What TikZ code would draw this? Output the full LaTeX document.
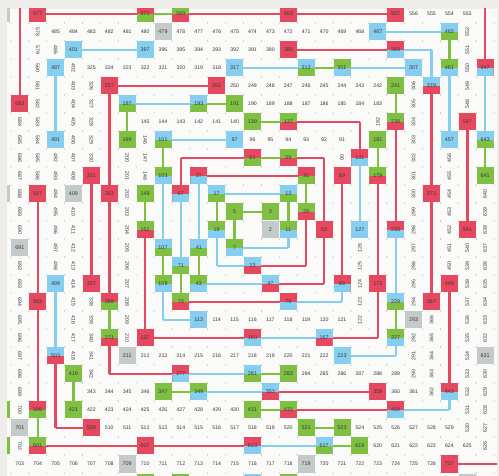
\documentclass[tikz,border=0pt]{standalone}
\usepackage{fontspec}
\setmainfont{Liberation Sans}
\definecolor{cred}{HTML}{E6485F}
\definecolor{cgreen}{HTML}{7FC043}
\definecolor{cblue}{HTML}{86CEF0}
\definecolor{cgray}{HTML}{C4C9CA}
\definecolor{sheet}{HTML}{FAFAF9}
\definecolor{paper}{HTML}{EEEDE9}
\definecolor{ink}{HTML}{3A3A3A}
\definecolor{dotc}{HTML}{A0A0A0}

\ExplSyntaxOn
\intarray_new:Nn \g_my_sieve_intarray { 1100 }
\int_step_inline:nnn { 12 } { 1100 } { \intarray_gset:Nnn \g_my_sieve_intarray {#1} { 1 } }
\int_step_inline:nnn { 2 } { 33 }
 {
  \int_compare:nNnT { \intarray_item:Nn \g_my_sieve_intarray { #1 + 10 } } = { 1 }
   {
    \int_step_inline:nnnn { #1 * #1 } { #1 } { 1089 }
     { \intarray_gset:Nnn \g_my_sieve_intarray { ##1 + 10 } { 0 } }
   }
 }
\cs_new:Npn \my_isp:n #1 { \intarray_item:Nn \g_my_sieve_intarray { #1 + 10 } }
\cs_new:Npn \my_nextgap:n #1
 {
  \int_compare:nNnTF { \my_isp:n { #1 + 2 } } = { 1 } { 2 }
   { \int_compare:nNnTF { \my_isp:n { #1 + 4 } } = { 1 } { 4 }
    { \int_compare:nNnTF { \my_isp:n { #1 + 6 } } = { 1 } { 6 } { 0 } } }
 }
\cs_new:Npn \my_prevgap:n #1
 {
  \int_compare:nNnTF { \my_isp:n { #1 - 2 } } = { 1 } { 2 }
   { \int_compare:nNnTF { \my_isp:n { #1 - 4 } } = { 1 } { 4 }
    { \int_compare:nNnTF { \my_isp:n { #1 - 6 } } = { 1 } { 6 } { 0 } } }
 }
\cs_new:Npn \my_gapcolor:n #1 { \int_case:nnF {#1} { {2}{cgreen} {4}{cblue} {6}{cred} } {cgray} }
\int_new:N \l_my_x_int
\int_new:N \l_my_y_int
\int_new:N \l_my_r_int
\int_new:N \l_my_m_int
\int_new:N \l_my_n_int
\int_new:N \l_my_ga_int
\int_new:N \l_my_gb_int
\int_new:N \l_my_p_int
\int_new:N \l_my_dp_int
\int_new:N \l_my_dn_int
\bool_new:N \l_my_found_bool
\bool_new:N \l_my_pt_bool
\cs_new_protected:Npn \MySetCell #1#2
 {
  \int_set:Nn \l_my_x_int {#1}
  \int_set:Nn \l_my_y_int {#2}
  \int_set:Nn \l_my_r_int { \int_max:nn { \int_abs:n { \l_my_x_int } } { \int_abs:n { \l_my_y_int } } }
  \int_set:Nn \l_my_m_int { (2*\l_my_r_int+1)*(2*\l_my_r_int+1) }
  \int_compare:nNnTF { \l_my_r_int } = { 0 }
   { \int_set:Nn \l_my_n_int { 1 } }
   {
    \int_compare:nNnTF { \l_my_y_int } = { -\l_my_r_int }
     { \int_set:Nn \l_my_n_int { \l_my_m_int - \l_my_r_int + \l_my_x_int } }
     {
      \int_compare:nNnTF { \l_my_x_int } = { -\l_my_r_int }
       { \int_set:Nn \l_my_n_int { \l_my_m_int - 3*\l_my_r_int - \l_my_y_int } }
       {
        \int_compare:nNnTF { \l_my_y_int } = { \l_my_r_int }
         { \int_set:Nn \l_my_n_int { \l_my_m_int - 5*\l_my_r_int - \l_my_x_int } }
         { \int_set:Nn \l_my_n_int { \l_my_m_int - 7*\l_my_r_int + \l_my_y_int } }
       }
     }
   }
  \tl_gset:Nx \CellN { \int_use:N \l_my_n_int }
  \tl_gset:Nx \CellPrime { \my_isp:n { \l_my_n_int } }
  \int_compare:nNnTF { \int_abs:n { \l_my_x_int } } > { \int_abs:n { \l_my_y_int } }
   { \int_compare:nNnTF { \l_my_x_int } < { 0 } { \tl_gset:Nn \CellRot { -90 } } { \tl_gset:Nn \CellRot { 90 } } }
   { \tl_gset:Nn \CellRot { 0 } }
  \int_compare:nNnTF { \l_my_y_int } = { -\l_my_r_int }
   { \int_set:Nn \l_my_dn_int { 3 } }
   {
    \bool_if:nTF { \int_compare_p:nNn { \l_my_y_int } = { \l_my_r_int } && \int_compare_p:nNn { \l_my_x_int } > { -\l_my_r_int } }
     { \int_set:Nn \l_my_dn_int { 4 } }
     {
      \int_compare:nNnTF { \l_my_x_int } = { -\l_my_r_int }
       { \int_set:Nn \l_my_dn_int { 2 } }
       { \int_set:Nn \l_my_dn_int { 1 } }
     }
   }
  \bool_if:nTF { \int_compare_p:nNn { \l_my_x_int } = { \l_my_r_int } && \int_compare_p:nNn { \l_my_y_int } = { 1 - \l_my_r_int } }
   { \int_set:Nn \l_my_dp_int { 4 } }
   {
    \bool_if:nTF { \int_compare_p:nNn { \l_my_y_int } = { -\l_my_r_int } && \int_compare_p:nNn { \l_my_x_int } > { -\l_my_r_int } }
     { \int_set:Nn \l_my_dp_int { 4 } }
     {
      \bool_if:nTF { \int_compare_p:nNn { \l_my_x_int } = { -\l_my_r_int } && \int_compare_p:nNn { \l_my_y_int } < { \l_my_r_int } }
       { \int_set:Nn \l_my_dp_int { 1 } }
       {
        \bool_if:nTF { \int_compare_p:nNn { \l_my_y_int } = { \l_my_r_int } && \int_compare_p:nNn { \l_my_x_int } < { \l_my_r_int } }
         { \int_set:Nn \l_my_dp_int { 3 } }
         { \int_set:Nn \l_my_dp_int { 2 } }
       }
     }
   }
  \int_set:Nn \l_my_ga_int { \my_prevgap:n { \l_my_n_int } }
  \int_set:Nn \l_my_gb_int { \my_nextgap:n { \l_my_n_int } }
  \int_compare:nNnTF { \l_my_ga_int } = { 0 }
   {
    \tl_gset:Nx \CellTop { \my_gapcolor:n { \l_my_gb_int } }
    \tl_gset_eq:NN \CellBot \CellTop
   }
   {
    \int_compare:nNnTF { \l_my_gb_int } = { 0 }
     {
      \tl_gset:Nx \CellTop { \my_gapcolor:n { \l_my_ga_int } }
      \tl_gset_eq:NN \CellBot \CellTop
     }
     {
      \int_compare:nNnTF { \l_my_dp_int } = { 1 } { \bool_set_true:N \l_my_pt_bool }
       { \int_compare:nNnTF { \l_my_dn_int } = { 1 } { \bool_set_false:N \l_my_pt_bool }
        { \int_compare:nNnTF { \l_my_dp_int } = { 2 } { \bool_set_false:N \l_my_pt_bool }
         { \int_compare:nNnTF { \l_my_dn_int } = { 2 } { \bool_set_true:N \l_my_pt_bool }
          { \int_compare:nNnTF { \l_my_dp_int } = { 4 } { \bool_set_true:N \l_my_pt_bool } { \bool_set_false:N \l_my_pt_bool } } } } }
      \bool_if:NTF \l_my_pt_bool
       {
        \tl_gset:Nx \CellTop { \my_gapcolor:n { \l_my_ga_int } }
        \tl_gset:Nx \CellBot { \my_gapcolor:n { \l_my_gb_int } }
       }
       {
        \tl_gset:Nx \CellTop { \my_gapcolor:n { \l_my_gb_int } }
        \tl_gset:Nx \CellBot { \my_gapcolor:n { \l_my_ga_int } }
       }
     }
   }
 }
\cs_new_protected:Npn \MyEdge #1
 {
  \bool_set_false:N \l_my_found_bool
  \int_step_inline:nnn { 0 } { 5 }
   {
    \bool_if:NF \l_my_found_bool
     {
      \int_compare:nNnT { \my_isp:n { #1 - ##1 } } = { 1 }
       { \bool_set_true:N \l_my_found_bool \int_set:Nn \l_my_p_int { #1 - ##1 } }
     }
   }
  \tl_gset:Nn \EdgeGap { 0 }
  \bool_if:NT \l_my_found_bool
   {
    \int_set:Nn \l_my_ga_int { \my_nextgap:n { \l_my_p_int } }
    \bool_if:nT { \int_compare_p:nNn { \l_my_ga_int } > { 0 } && \int_compare_p:nNn { \l_my_p_int + \l_my_ga_int } > { #1 } }
     { \tl_gset:Nx \EdgeGap { \int_use:N \l_my_ga_int } }
   }
  \tl_gset:Nx \EdgeColor { \my_gapcolor:n { \EdgeGap } }
  \tl_gset:Nx \NextN { \int_eval:n { #1 + 1 } }
 }
\ExplSyntaxOff

\tikzset{
  conn/.style={line width=2.4pt, line cap=square},
  pbox/.style={minimum size=17pt, inner sep=0pt, text=ink, font=\fontsize{5.4}{5.4}\selectfont},
  ctext/.style={inner sep=0pt, text=ink, font=\fontsize{5.2}{5.2}\selectfont},
}

\begin{document}
\begin{tikzpicture}[x=1pt,y=1pt]
\fill[paper] (0,0) rectangle (499,-476);
\useasboundingbox (0,0) rectangle (499,-476);
\fill[sheet] (7,-9) rectangle (497,-476);
\begin{scope}
\clip (7,-9) rectangle (497,-476);
% cell coordinates
\foreach \x in {-15,...,15} {
  \foreach \y in {-15,...,15} {
    \MySetCell{\x}{\y}
    \coordinate (c\CellN) at ({252.5+17.9*\x},{18*\y-230});
  }
}
% connectors along the spiral between consecutive primes
\foreach \n in {1,...,960} {
  \MyEdge{\n}
  \ifnum\EdgeGap>0 \draw[conn,\EdgeColor] (c\n) -- (c\NextN);\fi
}
% prime boxes and composite labels (visible window only)
\foreach \x in {-14,...,13} {
  \foreach \y in {-14,...,12} {
    \MySetCell{\x}{\y}
    \def\lbl{\CellN}
    \ifnum\x<-13 \def\lbl{}\fi
    \ifnum\y<-13 \def\lbl{}\fi
    \ifnum\CellPrime=1
      \node[pbox, fill=\CellTop, path picture={
          \fill[\CellTop] (path picture bounding box.north west) rectangle (path picture bounding box.east);
          \fill[\CellBot] (path picture bounding box.west) rectangle (path picture bounding box.south east);}]
        (p\CellN) at (c\CellN) {\lbl};
    \else
      \ifnum\CellN>81
        \ifnum\x>-14 \ifnum\y>-14
          \MyEdge{\CellN}
          \ifnum\EdgeGap=0
            \node[ctext, rotate=\CellRot] (t\CellN) at (c\CellN) {\CellN};
          \fi
        \fi\fi
      \fi
    \fi
  }
}
% grid dots at the cell corners
\fill[dotc] \foreach \i in {-15,...,14} { \foreach \j in {-15,...,14} {
    ({252.5+17.9*(\i+0.5)},{18*(\j+0.5)-230}) circle (0.55)
  } };
\end{scope}
\end{tikzpicture}
\end{document}
